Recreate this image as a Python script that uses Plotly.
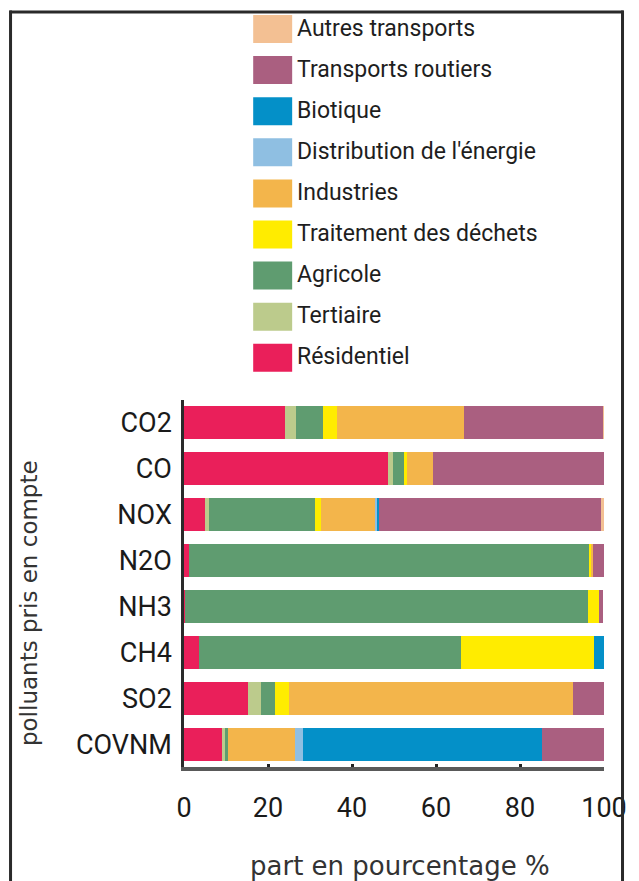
import plotly.graph_objects as go

# ---------------- data ----------------
categories = ["CO2", "CO", "NOX", "N2O", "NH3", "CH4", "SO2", "COVNM"]

residentiel = [24.0, 48.6, 4.9, 1.2, 0.3, 3.6, 15.3, 9.1]
tertiaire = [2.6, 1.1, 1.1, 0.0, 0.0, 0.0, 3.1, 0.7]
agricole = [6.6, 2.7, 25.2, 95.3, 95.8, 62.3, 3.2, 0.7]
dechets = [3.2, 0.8, 1.3, 0.3, 2.7, 31.7, 3.4, 0.0]
industries = [30.2, 6.0, 13.1, 0.5, 0.0, 0.0, 67.6, 16.0]
distribution = [0.0, 0.0, 0.4, 0.0, 0.0, 0.0, 0.0, 1.8]
biotique = [0.0, 0.0, 0.4, 0.0, 0.0, 2.3, 0.0, 57.0]
routiers = [33.3, 40.8, 53.0, 2.7, 1.0, 0.0, 7.4, 14.7]
autres = [0.1, 0.0, 0.6, 0.0, 0.0, 0.0, 0.0, 0.0]

series_names = ["Résidentiel", "Tertiaire", "Agricole", "Traitement des déchets",
                "Industries", "Distribution de l'énergie", "Biotique",
                "Transports routiers", "Autres transports"]
series_values = [residentiel, tertiaire, agricole, dechets, industries,
                 distribution, biotique, routiers, autres]
series_colors = ["#EA1F5A", "#BCCB8C", "#5F9C70", "#FFEC00", "#F3B54B",
                 "#8FBFE2", "#0490C8", "#AA5F80", "#F3C093"]

x_ticks = [0, 20, 40, 60, 80, 100]

# ---------------- layout geometry (pixels) ----------------
W, H = 639, 881
PL, PR, PT, PB = 184, 615, 400, 767   # plot area


def px2x(px):
    return (px - PL) / (PR - PL)


def px2y(py):
    return (PB - py) / (PB - PT)


fig = go.Figure()
for name, vals, col in zip(series_names, series_values, series_colors):
    fig.add_trace(go.Bar(
        y=categories, x=vals, name=name, orientation="h",
        marker=dict(color=col, line=dict(width=0)),
        showlegend=False,
    ))

shapes = []
annotations = []

# custom legend (top to bottom = reverse of stacking order)
legend_top_center = 29
legend_pitch = 41.1
for i, (name, col) in enumerate(zip(series_names[::-1], series_colors[::-1])):
    cy = legend_top_center + i * legend_pitch
    shapes.append(dict(type="rect", xref="paper", yref="paper",
                       x0=px2x(255), x1=px2x(295),
                       y0=px2y(cy + 14), y1=px2y(cy - 14),
                       fillcolor=col, line=dict(width=0)))
    annotations.append(dict(xref="paper", yref="paper", x=px2x(298), y=px2y(cy - 1),
                            xanchor="left", yanchor="middle", showarrow=False,
                            text=name,
                            font=dict(family="Roboto, sans-serif", size=23,
                                      color="#1e1e1e")))

# frame around the figure (top, left, right edges)
frame_line = dict(color="#2a2a2a", width=3)
shapes.append(dict(type="line", xref="paper", yref="paper", layer="above",
                   x0=px2x(5), x1=px2x(635), y0=px2y(12), y1=px2y(12), line=frame_line))
shapes.append(dict(type="line", xref="paper", yref="paper", layer="above",
                   x0=px2x(6), x1=px2x(6), y0=px2y(10.5), y1=px2y(H + 5), line=frame_line))
shapes.append(dict(type="line", xref="paper", yref="paper", layer="above",
                   x0=px2x(634), x1=px2x(634), y0=px2y(10.5), y1=px2y(H + 5), line=frame_line))

# axis titles
annotations.append(dict(xref="paper", yref="paper", x=px2x(25), y=px2y(603),
                        xanchor="center", yanchor="middle", showarrow=False,
                        textangle=-90, text="polluants pris en compte",
                        font=dict(family="DejaVu Sans, sans-serif", size=23,
                                  color="#333333")))
annotations.append(dict(xref="paper", yref="paper", x=px2x(406), y=px2y(866),
                        xanchor="center", yanchor="middle", showarrow=False,
                        text="part en pourcentage %",
                        font=dict(family="DejaVu Sans, sans-serif", size=26,
                                  color="#333333")))

fig.update_layout(
    width=W, height=H,
    margin=dict(l=PL, r=W - PR, t=PT, b=H - PB, pad=0),
    paper_bgcolor="white", plot_bgcolor="white",
    barmode="stack", bargap=0.28,
    showlegend=False,
    shapes=shapes, annotations=annotations,
    xaxis=dict(range=[0, 100], tickvals=x_ticks, ticktext=[str(v) for v in x_ticks],
               showgrid=False, zeroline=False,
               showline=True, linecolor="#595959", linewidth=4,
               ticks="inside", ticklen=3, tickwidth=3, tickcolor="#222222",
               ticklabelstandoff=14,
               tickfont=dict(family="Roboto, sans-serif", size=27, color="#1a1a1a")),
    yaxis=dict(type="category", categoryorder="array", categoryarray=categories,
               range=[len(categories) - 0.5, -0.5],
               showgrid=False, zeroline=False,
               showline=True, linecolor="#2a2a2a", linewidth=2.5,
               ticks="", ticklabelstandoff=4,
               tickfont=dict(family="Roboto, sans-serif", size=27, color="#1a1a1a")),
)

# remove the page's default body margin so the figure fills the window exactly
fig.write_html("out.html",
               config={"displayModeBar": False},
               post_script="document.body.style.margin='0';document.body.style.overflow='hidden';")
